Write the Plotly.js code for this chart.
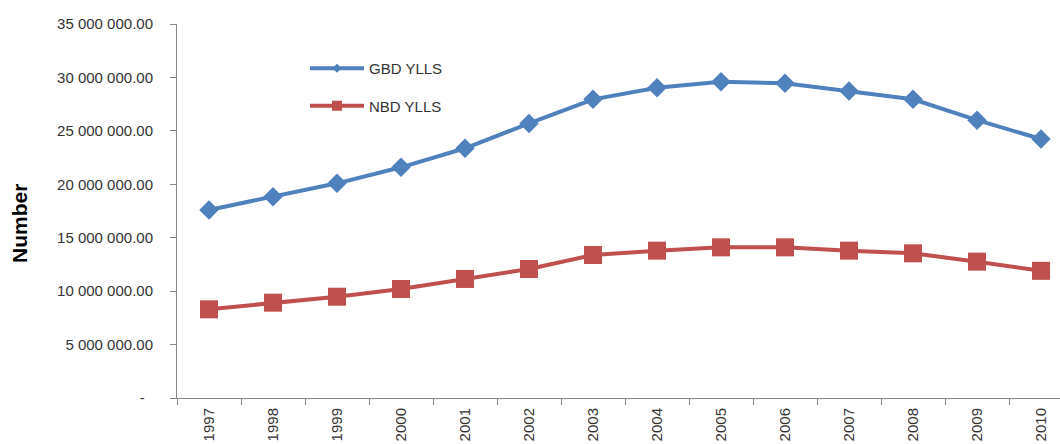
<!DOCTYPE html>
<html>
<head>
<meta charset="utf-8">
<script src="https://cdn.plot.ly/plotly-3.0.1.min.js"></script>
<style>
html,body{margin:0;padding:0;overflow:hidden;background:#fff;}
#chart{width:1080px;height:444px;}
</style>
</head>
<body>
<div id="chart"></div>
<script>
const years = ['1997','1998','1999','2000','2001','2002','2003','2004','2005','2006','2007','2008','2009','2010'];
const gbdYlls = [17600000,18840000,20090000,21590000,23370000,25700000,27950000,29040000,29600000,29450000,28730000,27950000,26000000,24240000];
const nbdYlls = [8300000,8920000,9480000,10200000,11140000,12070000,13380000,13790000,14100000,14100000,13790000,13540000,12760000,11900000];
const yTickVals = [0,5000000,10000000,15000000,20000000,25000000,30000000,35000000];
const yTickText = ['-\u00a0\u00a0','5 000 000.00','10 000 000.00','15 000 000.00','20 000 000.00','25 000 000.00','30 000 000.00','35 000 000.00'];

const blue = '#4F81BD', red = '#C0504D';
const font = 'Liberation Sans, Arial, sans-serif';

const traces = [
  {x: years, y: gbdYlls, type: 'scatter', mode: 'lines+markers', showlegend: false,
   line: {color: blue, width: 4}, marker: {symbol: 'diamond', size: 15, color: blue}},
  {x: years, y: nbdYlls, type: 'scatter', mode: 'lines+markers', showlegend: false,
   line: {color: red, width: 4}, marker: {symbol: 'square', size: 18, color: red}},
  {x: [null], y: [null], type: 'scatter', mode: 'lines+markers', name: 'GBD YLLS', legendgroup: 'a',
   line: {color: blue, width: 4}, marker: {symbol: 'diamond', size: 7, color: blue}},
  {x: [null], y: [null], type: 'scatter', mode: 'lines+markers', name: 'NBD YLLS', legendgroup: 'b',
   line: {color: red, width: 4}, marker: {symbol: 'square', size: 10, color: red}}
];

const layout = {
  width: 1080, height: 444,
  margin: {l: 177, r: 7, t: 24, b: 46},
  paper_bgcolor: '#fff', plot_bgcolor: '#fff',
  font: {family: font, size: 15, color: '#333'},
  showlegend: true,
  legend: {x: (305-177)/896, y: 1 - (52-24)/374, xanchor: 'left', yanchor: 'top',
           bgcolor: 'rgba(0,0,0,0)', font: {size: 15, color: '#333'},
           itemwidth: 54, tracegroupgap: 15},
  xaxis: {type: 'category', range: [-0.5, 13.5], tickson: 'boundaries',
          showline: true, linecolor: '#868686', linewidth: 1,
          ticks: 'outside', ticklen: 6, tickcolor: '#868686',
          tickangle: -90, showgrid: false, zeroline: false,
          ticklabelstandoff: 3,
          tickfont: {size: 15, color: '#333'}},
  yaxis: {range: [0, 35000000], tickvals: yTickVals, ticktext: yTickText,
          showline: true, linecolor: '#868686', linewidth: 1,
          ticks: 'outside', ticklen: 6, tickcolor: '#868686',
          ticklabelstandoff: 14,
          showgrid: false, zeroline: false,
          tickfont: {size: 15, color: '#333'}},
  annotations: [{text: '<b>Number</b>', textangle: -90, xref: 'paper', yref: 'paper',
                 x: (20-177)/896, y: (398-224)/374, xanchor: 'center', yanchor: 'middle',
                 showarrow: false, font: {size: 21, color: '#000', family: font}}]
};

Plotly.newPlot('chart', traces, layout, {displayModeBar: false, staticPlot: true});
</script>
</body>
</html>
